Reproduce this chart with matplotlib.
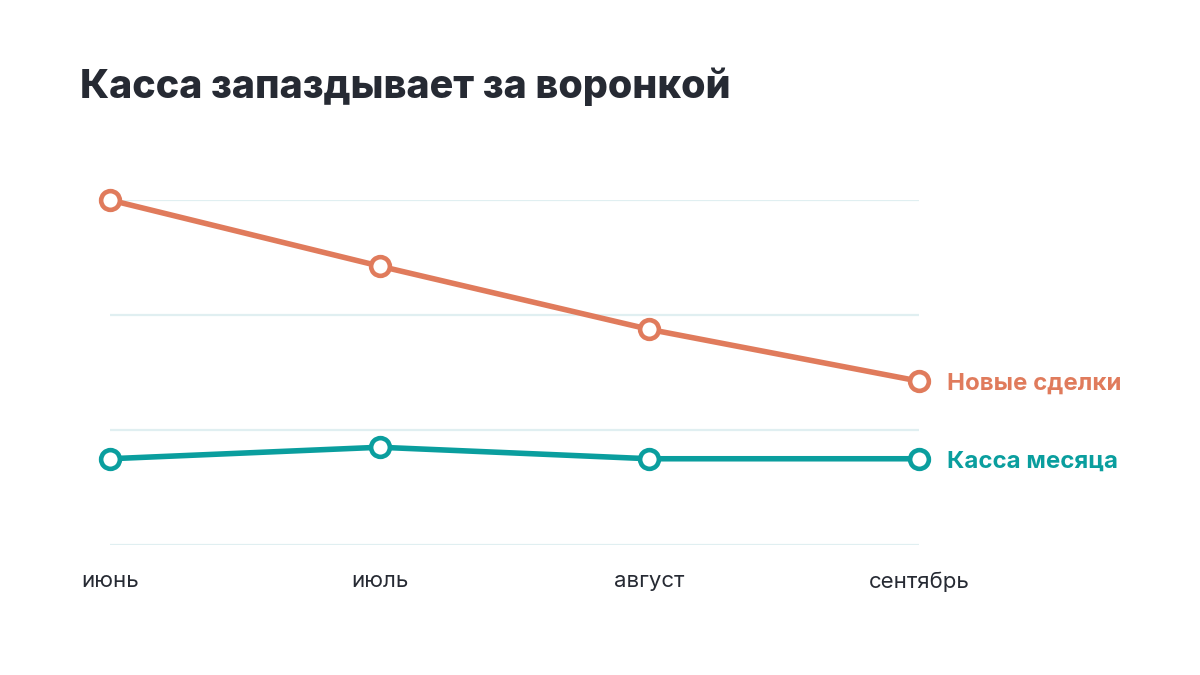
import matplotlib.pyplot as plt

# данные графика
months = ['июнь', 'июль', 'август', 'сентябрь']
new_deals = [120, 97, 75, 57]
cash = [30, 34, 30, 30]
y_ticks = [0, 40, 80, 120]

orange = '#E07B5C'
teal = '#0A9E9E'
dark = '#262A33'

plt.rcParams['font.family'] = ['Inter', 'DejaVu Sans']

fig = plt.figure(figsize=(12, 6.75), dpi=100)
ax = fig.add_axes([110 / 1200, 130 / 675, 809 / 1200, 345 / 675])

x = list(range(len(months)))
for vals, color, name in [(new_deals, orange, 'Новые сделки'), (cash, teal, 'Касса месяца')]:
    ax.plot(x, vals, color=color, lw=4.0, marker='o', ms=13.5, mfc='white',
            mec=color, mew=3.3, clip_on=False, zorder=3)
    ax.annotate(name, (x[-1], vals[-1]), xytext=(20, -2), textcoords='offset points',
                ha='left', va='center', color=color, fontsize=17.3, fontweight='bold')

ax.set_xlim(0, 3)
ax.set_ylim(0, 120)
ax.set_xticks(x)
ax.set_xticklabels(months, fontsize=16, color=dark)
ax.set_yticks(y_ticks)
ax.set_yticklabels([])
ax.tick_params(axis='both', length=0)
ax.tick_params(axis='x', pad=19)
ax.grid(axis='y', color='#E0EFF1', lw=1.6)
ax.set_axisbelow(True)
for s in ax.spines.values():
    s.set_visible(False)

fig.text(80 / 1200, 1 - 87 / 675, 'Касса запаздывает за воронкой', fontsize=28.4,
         fontweight='heavy', color=dark, ha='left', va='center')

fig.savefig('out.png', dpi=100)
